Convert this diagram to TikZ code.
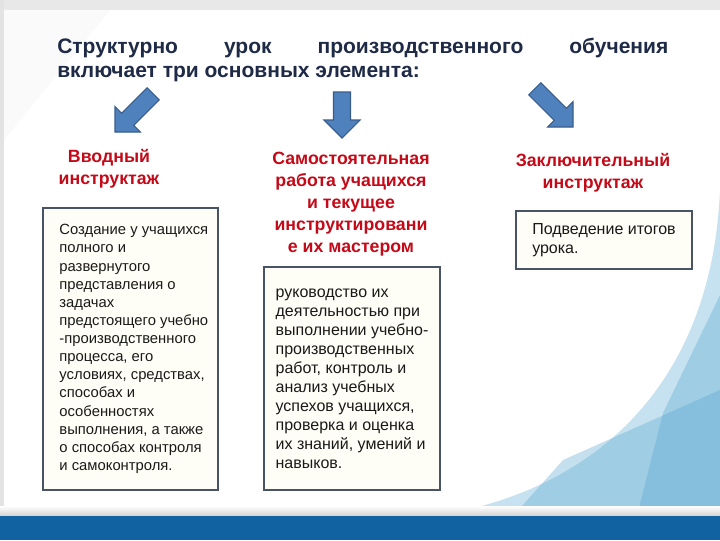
\documentclass[tikz,border=0pt]{standalone}
\usepackage{fontspec}
\setmainfont{Liberation Sans}
\usepackage{tikz}
\usetikzlibrary{positioning}

\definecolor{titleblue}{RGB}{30,42,70}
\definecolor{headred}{RGB}{196,10,24}
\definecolor{boxedge}{RGB}{72,84,100}
\definecolor{boxfill}{RGB}{255,254,246}
\definecolor{arrowblue}{RGB}{79,129,189}
\definecolor{arrowedge}{RGB}{56,93,140}
\definecolor{bandblue}{RGB}{16,98,160}
\definecolor{decolight}{RGB}{198,226,240}
\definecolor{decoblue}{RGB}{88,166,208}

\begin{document}
\begin{tikzpicture}[x=0.75pt,y=-0.75pt,
  titletext/.style={text=titleblue,font=\fontsize{15.75}{18}\selectfont\bfseries,inner sep=0pt},
  headtext/.style={text=headred,font=\fontsize{13.3}{16.5}\selectfont\bfseries,align=center,inner sep=0pt},
  textbox/.style={draw=boxedge,line width=1.3pt,fill=boxfill,align=left,text=black!90,inner sep=0pt}]
\useasboundingbox (0,0) rectangle (720,540);
% slide background
\fill[white] (0,0) rectangle (720,540);
\fill[gray!4] (4,10) -- (110,10) -- (4,140) -- cycle;
\fill[gray!18] (0,0) rectangle (720,10);
\fill[gray!22] (0,0) rectangle (4,516);
\fill[decolight] (720,190) .. controls (712,380) and (600,490) .. (435,516) -- (720,516) -- cycle;
\fill[decoblue,opacity=0.35] (720,295) -- (663,413) -- (637,516) -- (720,516) -- cycle;
\fill[decoblue,opacity=0.35] (720,390) -- (563,460) -- (513,516) -- (720,516) -- cycle;
\shade[top color=white,bottom color=gray!35] (0,506) rectangle (720,516);
\fill[bandblue] (0,516) rectangle (720,540);
% title
\node[titletext,anchor=base west] (titleA) at (57,53)
  {\makebox[458.25pt][s]{Структурно урок производственного обучения}};
\node[titletext,anchor=base west] (titleB) at (57,77) {включает три основных элемента:};
% arrows
\foreach \ax/\ay/\ang/\len in {115/132/225/54,342/138/270/46,573/127/315/54}
  {\filldraw[fill=arrowblue,draw=arrowedge,line width=0.8pt,shift={(\ax,\ay)},rotate=\ang]
     (0,0) -- (-18,18) -- (-18,8.5) -- (-\len,8.5) -- (-\len,-8.5) -- (-18,-8.5) -- (-18,-18) -- cycle;}
% left column
\node[headtext] (introhead) at (109,169) {Вводный\\инструктаж};
\node[textbox,minimum width=131.25pt,minimum height=211.5pt,
  font=\fontsize{11.1}{13.6}\selectfont] (introbox) at (130.5,349)
  {\hspace*{5pt}\begin{tabular}{@{}l@{}}Создание у учащихся\\полного и\\развернутого\\представления о\\задачах\\предстоящего учебно\\-производственного\\процесса, его\\условиях, средствах,\\способах и\\особенностях\\выполнения, а также\\о способах контроля\\и самоконтроля.\end{tabular}};
% middle column
\node[headtext] (workhead) at (351,204.5)
  {Самостоятельная\\работа учащихся\\и текущее\\инструктировани\\е их мастером};
\node[textbox,minimum width=132pt,minimum height=167.25pt,
  font=\fontsize{12}{14.25}\selectfont] (workbox) at (352,378.5)
  {руководство их\\деятельностью при\\выполнении учебно-\\производственных\\работ, контроль и\\анализ учебных\\успехов учащихся,\\проверка и оценка\\их знаний, умений и\\навыков.};
% right column
\node[headtext] (finalhead) at (593,172.5) {Заключительный\\инструктаж};
\node[textbox,minimum width=132pt,minimum height=43.5pt,
  font=\fontsize{12}{14.25}\selectfont] (finalbox) at (604,240)
  {Подведение итогов\\урока.};
\end{tikzpicture}
\end{document}
